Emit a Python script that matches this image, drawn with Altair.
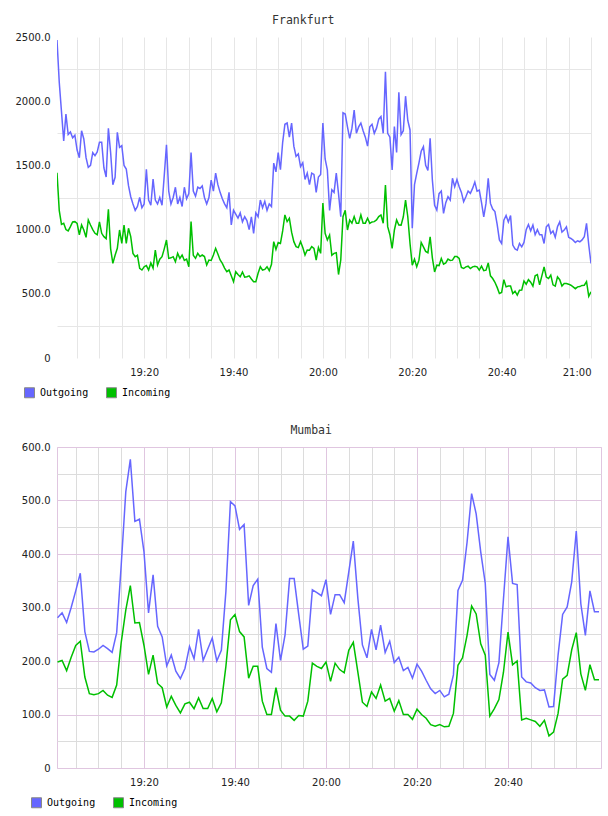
import altair as alt
import pandas as pd
from datetime import datetime, timedelta, timezone

# ---------------- data ----------------
SERIES = ["Outgoing", "Incoming"]
COLORS = ["#6666ff", "#00c000"]

FRA_START = "2024-01-01T19:00:30"
FRA_STEP_S = 30
fra_out = [
    2477, 2150, 1920, 1690, 1900, 1740, 1760, 1715, 1735, 1620,
    1560, 1770, 1706, 1560, 1485, 1500, 1600, 1576, 1605, 1680,
    1680, 1480, 1410, 1789, 1600, 1350, 1407, 1758, 1640, 1654,
    1500, 1472, 1342, 1256, 1200, 1150, 1180, 1250, 1170, 1200,
    1470, 1230, 1190, 1394, 1230, 1200, 1250, 1190, 1420, 1660,
    1300, 1200, 1250, 1330, 1200, 1250, 1180, 1330, 1240, 1280,
    1600, 1300, 1260, 1330, 1320, 1340, 1250, 1200, 1250, 1386,
    1300, 1440, 1350, 1290, 1240, 1200, 1170, 1290, 1036, 1150,
    1120, 1090, 1130, 1060, 1100, 1070, 1000, 1100, 970, 1130,
    1100, 1230, 1170, 1220, 1150, 1200, 1180, 1518, 1450, 1600,
    1466, 1680, 1820, 1830, 1720, 1830, 1650, 1570, 1590, 1490,
    1520, 1390, 1440, 1350, 1440, 1430, 1290, 1410, 1430, 1830,
    1550, 1466, 1150, 1310, 1290, 1440, 1280, 1100, 1910, 1900,
    1800, 1710, 1790, 1930, 1750, 1800, 1830, 1770, 1720, 1650,
    1800, 1820, 1750, 1790, 1860, 1880, 1750, 2230, 1750, 1720,
    1464, 1802, 1600, 2070, 1740, 1770, 2039, 1850, 1776, 1010,
    1350, 1438, 1520, 1610, 1646, 1500, 1460, 1711, 1386, 1190,
    1152, 1280, 1300, 1126, 1210, 1256, 1230, 1400, 1334, 1390,
    1334, 1290, 1217, 1256, 1300, 1282, 1321, 1370, 1300, 1308,
    1210, 1100, 1204, 1400, 1204, 1160, 1140, 1040, 920, 892,
    1074, 1110, 1060, 1110, 880, 850, 840, 892, 866, 900,
    1000, 1040, 990, 1035, 960, 1000, 960, 960, 892, 1022,
    1040, 970, 990, 940, 1022, 1060, 980, 996, 1022, 940,
    931, 918, 900, 913, 905, 920, 944, 1048, 880, 736,
]
fra_in = [
    1443, 1150, 1040, 1049, 1000, 990, 1023, 1060, 1062, 1049,
    960, 1036, 997, 940, 1075, 1036, 1000, 971, 960, 1060,
    971, 945, 930, 1158, 850, 737, 800, 854, 997, 893,
    1036, 893, 1010, 945, 815, 789, 800, 698, 685, 711,
    720, 685, 740, 700, 841, 724, 770, 789, 850, 919,
    776, 780, 789, 750, 815, 776, 802, 760, 770, 711,
    1062, 800, 776, 815, 790, 802, 790, 724, 763, 760,
    802, 854, 810, 763, 737, 700, 672, 685, 640, 594,
    672, 650, 633, 670, 630, 633, 640, 615, 594, 594,
    660, 711, 685, 690, 711, 680, 730, 906, 846, 900,
    893, 990, 1114, 1062, 1088, 980, 906, 867, 860, 906,
    860, 802, 841, 840, 867, 854, 763, 860, 815, 1206,
    971, 919, 958, 800, 815, 820, 650, 763, 1100, 1150,
    997, 1075, 1050, 1101, 1049, 1050, 1114, 1049, 1050, 1088,
    1049, 1060, 1062, 1075, 1101, 1114, 1049, 1347, 1023, 960,
    854, 997, 1075, 1036, 1035, 1100, 1230, 1100, 892, 723,
    770, 710, 762, 900, 866, 830, 820, 944, 780, 670,
    723, 720, 775, 730, 740, 770, 760, 762, 790, 790,
    775, 705, 697, 710, 715, 697, 710, 715, 710, 684,
    715, 680, 684, 740, 640, 619, 590, 550, 502, 510,
    610, 554, 560, 560, 502, 520, 490, 528, 530, 600,
    575, 610, 590, 560, 640, 650, 570, 640, 710, 630,
    620, 645, 570, 560, 632, 610, 560, 580, 580, 575,
    567, 554, 540, 554, 556, 565, 567, 595, 480, 515,
]

MUM_START = "2024-01-01T19:01:00"
MUM_STEP_S = 60
mum_out = [
    281, 290, 272, 300, 331, 364, 255, 218, 217, 222,
    229, 223, 216, 253, 380, 516, 577, 461, 465, 404,
    290, 361, 265, 245, 191, 211, 181, 167, 186, 227,
    204, 259, 201, 222, 243, 200, 220, 330, 498, 490,
    446, 455, 304, 341, 353, 226, 186, 179, 270, 201,
    249, 354, 354, 287, 222, 228, 333, 328, 322, 352,
    287, 324, 324, 309, 366, 424, 317, 230, 206, 259,
    221, 267, 216, 237, 197, 207, 182, 188, 168, 194,
    181, 164, 148, 139, 145, 133, 138, 174, 332, 351,
    422, 513, 475, 404, 345, 175, 164, 197, 316, 432,
    345, 343, 170, 161, 159, 150, 145, 146, 114, 115,
    211, 287, 301, 348, 443, 307, 248, 331, 292, 292,
]
mum_in = [
    198, 201, 182, 207, 229, 237, 170, 139, 137, 139,
    145, 136, 132, 155, 235, 295, 341, 271, 272, 229,
    175, 211, 158, 150, 114, 134, 117, 103, 120, 123,
    111, 131, 111, 111, 130, 105, 122, 190, 277, 287,
    255, 245, 168, 190, 190, 125, 100, 100, 150, 108,
    97, 97, 89, 98, 97, 125, 196, 190, 186, 198,
    162, 196, 184, 178, 220, 235, 179, 123, 115, 142,
    130, 155, 125, 130, 106, 126, 100, 100, 91, 110,
    100, 93, 81, 78, 81, 77, 78, 102, 192, 206,
    248, 303, 288, 232, 211, 97, 111, 128, 179, 254,
    193, 200, 90, 93, 90, 87, 78, 89, 60, 67,
    102, 166, 173, 221, 253, 176, 145, 193, 165, 165,
]

FRA_Y_TICKS = list(range(0, 2501, 250))
MUM_Y_TICKS = list(range(0, 601, 50))

UTC = timezone.utc


def ms(h, m, s=0):
    return int(datetime(2024, 1, 1, h, m, s, tzinfo=UTC).timestamp() * 1000)


def make_df(start, step_s, out, inc):
    t0 = datetime.fromisoformat(start).replace(tzinfo=UTC)
    rows = []
    for i, (o, n) in enumerate(zip(out, inc)):
        t = int((t0 + timedelta(seconds=step_s * i)).timestamp() * 1000)
        rows.append({"t": t, "series": SERIES[0], "v": o})
        rows.append({"t": t, "series": SERIES[1], "v": n})
    return pd.DataFrame(rows)


def five_min_ticks(h0, m0, h1, m1):
    out = []
    cur = h0 * 60 + m0
    end = h1 * 60 + m1
    while cur <= end:
        out.append(ms(cur // 60, cur % 60))
        cur += 5
    return out


GRAY_T = "#e6e6e6"
GRAY_B = "#dcdcdc"
PURPLE = "#e0c6e0"
LABEL_FONT = "DejaVu Sans"
MONO = "DejaVu Sans Mono"

Y_LABEL_EXPR_500 = "datum.value % 500 == 0 ? (datum.value == 0 ? '0' : format(datum.value, '.1f')) : ''"
Y_LABEL_EXPR_100 = "datum.value % 100 == 0 ? (datum.value == 0 ? '0' : format(datum.value, '.1f')) : ''"
MAJOR_TEST = "(datum.value / 60000) % 20 == 0"
X_LABEL_EXPR = MAJOR_TEST + " ? utcFormat(datum.value, '%H:%M') : ''"


def panel(title, df, width, height, xdomain, xticks, ymax, yticks, ylabel_expr,
          xgrid_color, ygrid_color, ygrid_opacity, view, legend_x):
    base = alt.Chart(df)
    x = alt.X(
        "t:T",
        scale=alt.Scale(type="utc", domain=xdomain),
        axis=alt.Axis(
            title=None, values=xticks, tickCount=1000,
            labelExpr=X_LABEL_EXPR, grid=True,
            gridColor=xgrid_color, ticks=False, domain=False,
            labelFont=LABEL_FONT, labelFontSize=10, labelColor="#222",
            labelPadding=9, labelOverlap=False,
        ),
    )
    y = alt.Y(
        "v:Q",
        scale=alt.Scale(domain=[0, ymax], nice=False, zero=True),
        axis=alt.Axis(
            title=None, values=yticks, tickCount=1000, labelExpr=ylabel_expr, grid=True,
            gridColor=ygrid_color, gridOpacity=ygrid_opacity, ticks=False, domain=False,
            labelFont=LABEL_FONT, labelFontSize=10, labelColor="#222",
            labelPadding=7, labelOverlap=False,
        ),
    )
    # one line layer per series, coloured directly (no colour scale, so no
    # disabled legend that could swallow the fill legend)
    line_layers = [
        base.transform_filter(alt.datum.series == name)
        .mark_line(strokeWidth=1.5, clip=True, color=col)
        .encode(x=x, y=y)
        for name, col in zip(SERIES, COLORS)
    ]
    legend_layer = base.mark_square(size=1, opacity=0).encode(
        x="t:T", y="v:Q",
        fill=alt.Fill(
            "series:N",
            scale=alt.Scale(domain=SERIES, range=COLORS),
            legend=alt.Legend(
                title=None, orient="none", legendX=legend_x, legendY=350,
                direction="horizontal", symbolType="square", symbolSize=100,
                symbolStrokeColor="#888888", symbolStrokeWidth=1, symbolOpacity=1,
                labelFont=MONO, labelFontSize=10, labelColor="#000",
                labelOffset=5, columnPadding=15, padding=0,
            ),
        ),
    )
    return alt.layer(*line_layers, legend_layer).properties(
        width=width, height=height, view=view,
        title=alt.TitleParams(title, font=MONO, fontSize=11.5, fontWeight="normal",
                              color="#333", anchor="middle", frame="bounds", offset=6),
    )


fra_df = make_df(FRA_START, FRA_STEP_S, fra_out, fra_in)
mum_df = make_df(MUM_START, MUM_STEP_S, mum_out, mum_in)

top = panel(
    "Frankfurt", fra_df, 534, 321,
    [ms(19, 0, 30), ms(21, 0, 0)], five_min_ticks(19, 5, 21, 0),
    2500, FRA_Y_TICKS, Y_LABEL_EXPR_500,
    GRAY_T, GRAY_T,
    {"condition": {"test": "datum.value % 500 == 0", "value": 0}, "value": 1},
    alt.ViewBackground(stroke=None), -33,
)
bottom = panel(
    "Mumbai", mum_df, 544, 321,
    [ms(19, 0, 53), ms(21, 0, 26)], five_min_ticks(19, 5, 20, 55),
    600, MUM_Y_TICKS, Y_LABEL_EXPR_100,
    {"condition": {"test": MAJOR_TEST, "value": PURPLE}, "value": GRAY_B},
    {"condition": {"test": "datum.value % 100 == 0", "value": PURPLE}, "value": GRAY_B},
    1,
    alt.ViewBackground(stroke=PURPLE, strokeWidth=1), -26,
)

chart = alt.vconcat(top, bottom, spacing=24).resolve_scale(
    x="independent", y="independent", fill="independent"
).resolve_legend(fill="independent").properties(
    padding={"left": 15, "top": 14, "right": 0, "bottom": 0},
    background="white",
).configure_view(stroke=None)

chart.save("out.html", embed_options={"renderer": "svg", "actions": False})
